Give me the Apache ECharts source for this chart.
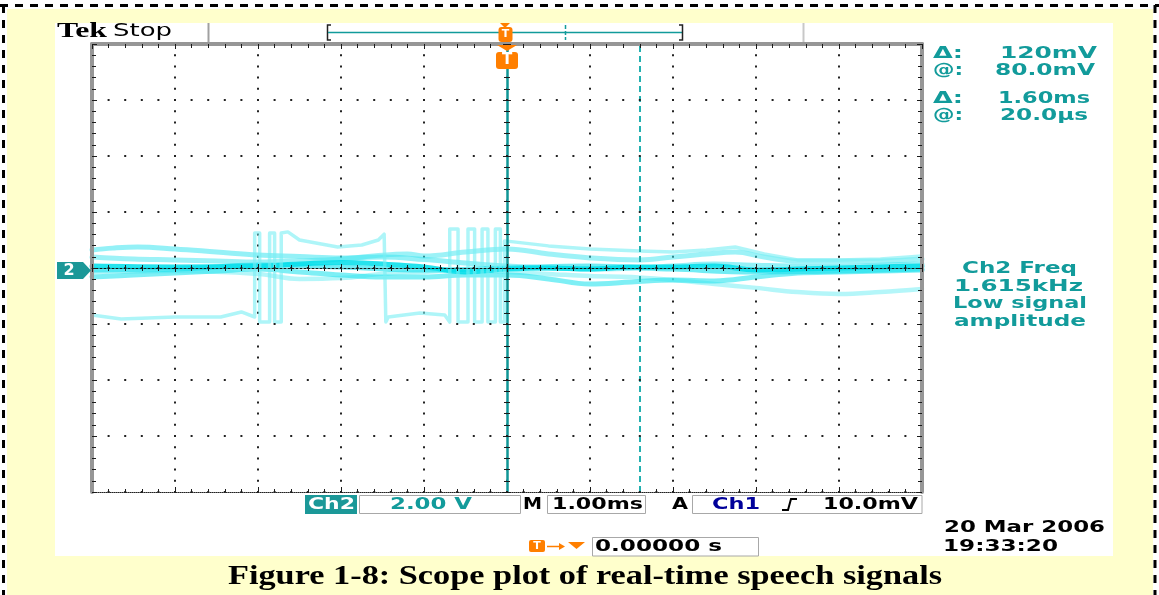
<!DOCTYPE html>
<html>
<head>
<meta charset="utf-8">
<script src="https://cdn.jsdelivr.net/npm/echarts@6/dist/echarts.min.js"></script>
<style>
html,body{margin:0;padding:0;background:#fff;}
#chart{width:1159px;height:595px;}
</style>
</head>
<body>
<div id="chart"></div>
<script>
// ---------------- data (time in ms, 1 ms/div; amplitude in V, 2 V/div) ----------------
const traceATimeMs = [-5, -4.75, -4.45, -4, -3.5, -3, -2.5, -2, -1.5, -1, -0.5, 0, 0.5, 1, 1.6, 2, 2.5, 3, 3.5, 4, 4.5, 5];
const traceAVolts  = [0.64, 0.71, 0.75, 0.68, 0.57, 0.46, 0.41, 0.36, 0.39, 0.30, 0.18, 0.07, 0.00, -0.04, 0.00, 0.07, 0.14, 0.10, 0.07, 0.07, 0.10, 0.14];

const traceBTimeMs = [-5, -4.5, -4, -3.5, -3, -2.5, -2, -1.5, -1.2, -1, -0.5, 0, 0.5, 1, 1.6, 2, 2.4, 2.75, 3.1, 3.5, 4, 4.5, 5];
const traceBVolts  = [0.39, 0.32, 0.29, 0.25, 0.21, 0.25, 0.32, 0.46, 0.50, 0.43, 0.57, 0.68, 0.50, 0.36, 0.29, 0.39, 0.50, 0.57, 0.39, 0.25, 0.25, 0.25, 0.32];

const traceCTimeMs = [-5, -4, -3, -2.5, -2, -1.5, -1, -0.5, 0, 0.5, 1, 1.5, 2, 2.5, 3, 3.5, 4, 4.5, 5];
const traceCVolts  = [0.07, 0.04, 0.07, 0.14, 0.20, 0.14, 0.04, -0.14, -0.04, 0.00, -0.04, 0.04, 0.04, 0.07, -0.07, -0.04, 0.00, 0.04, 0.07];

const traceC2TimeMs = [-5, -4, -3, -2, -1, 0, 1, 2, 3, 4, 5];
const traceC2Volts  = [-0.07, -0.04, 0.11, 0.04, -0.07, 0.00, 0.07, -0.04, -0.14, -0.11, -0.04];

const traceDTimeMs = [-5, -4.5, -4, -3.5, -3, -2.5, -2, -1.5, -1, -0.5, 0, 0.5, 1, 1.5, 2, 2.5, 3, 3.5, 4, 4.5, 5];
const traceDVolts  = [-0.32, -0.25, -0.18, -0.11, -0.04, -0.14, -0.25, -0.32, -0.32, -0.25, -0.25, -0.39, -0.57, -0.50, -0.43, -0.46, -0.32, -0.18, -0.14, -0.11, -0.07];

const traceETimeMs = [-5, -4, -3, -2.5, -2, -1.5, -1, -0.5, 0, 0.5, 1, 1.5, 2, 2.5, 3, 3.5, 4, 4.5, 5];
const traceEVolts  = [-0.14, -0.11, -0.21, -0.39, -0.36, -0.21, -0.14, -0.07, -0.14, -0.21, -0.29, -0.32, -0.43, -0.57, -0.71, -0.86, -0.93, -0.86, -0.75];

const traceFTimeMs = [-5, -4.65, -4, -3.45, -3.2, -3.04, -3.04, -2.98, -2.98, -2.86, -2.86, -2.80, -2.80, -2.72, -2.72, -2.64, -2.5, -2.04, -1.75, -1.55, -1.48, -1.46, -1.43, -1.05, -0.75, -0.69, -0.69, -0.59, -0.59, -0.47, -0.47, -0.39, -0.39, -0.30, -0.30, -0.23, -0.23, -0.14, -0.14, -0.08, -0.08, -0.03, -0.03, 0, 0.5, 1, 1.6, 2, 2.4, 2.75, 3.1, 3.5, 4, 4.5, 5];
const traceFVolts  = [-1.68, -1.82, -1.75, -1.75, -1.57, -1.75, 1.25, 1.25, -1.93, -1.93, 1.25, 1.25, -1.93, -1.93, 1.25, 1.29, 1.00, 0.75, 0.82, 1.00, 1.21, -1.93, -1.75, -1.61, -1.68, -1.93, 1.39, 1.39, -1.93, -1.93, 1.39, 1.39, -1.93, -1.93, 1.39, 1.39, -1.93, -1.93, 1.39, 1.39, -1.93, -1.93, 0.96, 0.96, 0.79, 0.68, 0.61, 0.57, 0.64, 0.75, 0.50, 0.29, 0.29, 0.32, 0.43];

const triggerTimeMs = 0;
const cursorTimeMs = 1.6;

const timeRangeMs = [-5, 5];
const voltRange = [-8, 8];
const timePerDiv = 1;
const voltsPerDiv = 2;

// ---------------- helpers ----------------
const TEAL = '#129b9b';
const ORANGE = '#ff7f00';
const SCOPE_FONT = 'DejaVu Sans';
const NONE = 'rgba(0,0,0,0)';
const ctx2d = document.createElement('canvas').getContext('2d');

function pairs(ts, vs) { return ts.map((t, i) => [t, vs[i]]); }

function fitText(str, left, cy, width, opt) {
  opt = opt || {};
  const size = opt.size || 16, weight = opt.weight || 'bold', family = opt.family || SCOPE_FONT;
  const font = weight + ' ' + size + 'px "' + family + '"';
  ctx2d.font = font;
  const w = ctx2d.measureText(str).width;
  return {
    type: 'text', x: left, y: cy, scaleX: width / w, z: 100, silent: true,
    style: { text: str, font: font, fill: opt.color || '#000', textAlign: 'left', textVerticalAlign: 'middle' }
  };
}
function centerText(str, cx, cy, opt) {
  const font = (opt.weight || 'bold') + ' ' + opt.size + 'px "' + (opt.family || SCOPE_FONT) + '"';
  return { type: 'text', x: cx, y: cy, z: 101, silent: true,
    style: { text: str, font: font, fill: opt.color || '#fff', textAlign: 'center', textVerticalAlign: 'middle' } };
}

function trace(name, ts, vs, color, width, smooth) {
  return {
    type: 'line', name: name, data: pairs(ts, vs), xAxisIndex: 0, yAxisIndex: 0,
    symbol: 'none', smooth: smooth, silent: true, z: 2,
    lineStyle: { color: color, width: width, cap: 'round', join: 'round' }
  };
}

const tickStyle = { color: '#1a1a1a', width: 1 };
const EDGE = '#969696';

function xAx(extra) {
  return Object.assign({
    type: 'value', min: timeRangeMs[0], max: timeRangeMs[1], interval: timePerDiv,
    axisLabel: { show: false }, splitLine: { show: false }
  }, extra);
}
function yAx(extra) {
  return Object.assign({
    type: 'value', min: voltRange[0], max: voltRange[1], interval: voltsPerDiv,
    axisLabel: { show: false }, splitLine: { show: false }
  }, extra);
}

// ---------------- graphics (screen furniture) ----------------
const graphics = [
  { type: 'rect', shape: { x: 7, y: 9, width: 1146, height: 586 }, style: { fill: '#ffffcc' }, z: -10, silent: true },
  { type: 'rect', shape: { x: 55, y: 23, width: 1058, height: 533 }, style: { fill: '#ffffff' }, z: -9, silent: true },
  { type: 'line', shape: { x1: 0, y1: 5.5, x2: 1159, y2: 5.5 }, style: { stroke: '#000', lineWidth: 3, lineDash: [8, 7] }, z: -8, silent: true },
  { type: 'line', shape: { x1: 3.5, y1: 5, x2: 3.5, y2: 595 }, style: { stroke: '#000', lineWidth: 3, lineDash: [8, 7] }, z: -8, silent: true },
  { type: 'line', shape: { x1: 1155, y1: 5, x2: 1155, y2: 595 }, style: { stroke: '#000', lineWidth: 3, lineDash: [8, 7] }, z: -8, silent: true },

  // top bar
  fitText('Tek', 57, 31, 50, { family: 'Liberation Serif', weight: 'bold', size: 22 }),
  fitText('Stop', 113, 31.5, 59, { weight: 'normal', size: 17 }),
  { type: 'line', shape: { x1: 208.5, y1: 23, x2: 208.5, y2: 42 }, style: { stroke: '#a0a0a0', lineWidth: 2 }, z: 100, silent: true },
  { type: 'line', shape: { x1: 803.5, y1: 23, x2: 803.5, y2: 42 }, style: { stroke: '#c8c8c8', lineWidth: 2 }, z: 100, silent: true },
  { type: 'polyline', shape: { points: [[331, 25], [327.5, 25], [327.5, 40], [331, 40]] }, style: { stroke: '#222', lineWidth: 1.5, fill: 'none' }, z: 100, silent: true },
  { type: 'line', shape: { x1: 328, y1: 32.5, x2: 682, y2: 32.5 }, style: { stroke: TEAL, lineWidth: 1.5 }, z: 100, silent: true },
  { type: 'polyline', shape: { points: [[679, 25], [682.5, 25], [682.5, 40], [679, 40]] }, style: { stroke: '#222', lineWidth: 1.5, fill: 'none' }, z: 100, silent: true },
  { type: 'line', shape: { x1: 565.5, y1: 25, x2: 565.5, y2: 40 }, style: { stroke: TEAL, lineWidth: 1.5, lineDash: [4, 2] }, z: 100, silent: true },
  { type: 'polygon', shape: { points: [[500, 23], [510, 23], [505, 28]] }, style: { fill: ORANGE }, z: 100, silent: true },
  { type: 'rect', shape: { x: 498.5, y: 27, width: 14, height: 15, r: 3 }, style: { fill: ORANGE }, z: 100, silent: true },
  centerText('T', 505.5, 34.5, { size: 11 }),

  // trigger marker inside graticule
  { type: 'polygon', shape: { points: [[497, 45], [517, 45], [507, 51]] }, style: { fill: ORANGE }, z: 100, silent: true },
  { type: 'rect', shape: { x: 496, y: 52, width: 22, height: 17, r: 3 }, style: { fill: ORANGE }, z: 100, silent: true },
  centerText('T', 507, 60.5, { size: 15 }),

  // channel 2 ground marker
  { type: 'polygon', shape: { points: [[57, 262], [83, 262], [91, 270.5], [83, 279], [57, 279]] }, style: { fill: '#1b9898' }, z: 100, silent: true },
  centerText('2', 69, 270.5, { size: 16 }),

  // cursor readouts
  fitText('\u0394:', 933, 53.5, 30, { color: TEAL }),
  fitText('120mV', 1000, 53.5, 97, { color: TEAL }),
  fitText('@:', 933, 71, 30, { color: TEAL }),
  fitText('80.0mV', 995, 71, 100, { color: TEAL }),
  fitText('\u0394:', 933, 99, 30, { color: TEAL }),
  fitText('1.60ms', 998, 99, 92, { color: TEAL }),
  fitText('@:', 933, 116, 30, { color: TEAL }),
  fitText('20.0\u00b5s', 1000, 116, 88, { color: TEAL }),

  // measurement
  fitText('Ch2 Freq', 962, 268.5, 115, { color: TEAL }),
  fitText('1.615kHz', 954, 286.5, 129, { color: TEAL }),
  fitText('Low signal', 953, 304, 134, { color: TEAL }),
  fitText('amplitude', 954, 321.5, 132, { color: TEAL }),

  // status line
  { type: 'rect', shape: { x: 305, y: 495, width: 52, height: 19 }, style: { fill: '#1b9898' }, z: 100, silent: true },
  fitText('Ch2', 308, 504.5, 47, { color: '#fff' }),
  { type: 'rect', shape: { x: 359.5, y: 495.5, width: 161, height: 18 }, style: { fill: 'none', stroke: '#a8a8a8', lineWidth: 1 }, z: 100, silent: true },
  fitText('2.00 V', 390, 504.5, 82, { color: TEAL }),
  fitText('M', 523, 504.5, 19),
  { type: 'rect', shape: { x: 547.5, y: 495.5, width: 98, height: 18 }, style: { fill: 'none', stroke: '#a8a8a8', lineWidth: 1 }, z: 100, silent: true },
  fitText('1.00ms', 552, 504.5, 91),
  fitText('A', 672, 504.5, 16),
  { type: 'rect', shape: { x: 692.5, y: 495.5, width: 229.5, height: 18 }, style: { fill: 'none', stroke: '#a8a8a8', lineWidth: 1 }, z: 100, silent: true },
  fitText('Ch1', 712, 504.5, 48, { color: '#00009a' }),
  { type: 'polyline', shape: { points: [[782, 510], [788, 510], [791, 499], [797, 499]] }, style: { stroke: '#000', lineWidth: 2, fill: 'none' }, z: 100, silent: true },
  fitText('10.0mV', 823, 504.5, 95),

  fitText('20 Mar 2006', 944, 528, 161),
  fitText('19:33:20', 943, 546.5, 115),

  { type: 'rect', shape: { x: 529, y: 540, width: 16, height: 12, r: 2 }, style: { fill: ORANGE }, z: 100, silent: true },
  centerText('T', 537, 546.5, { size: 11 }),
  { type: 'line', shape: { x1: 547, y1: 546.5, x2: 561, y2: 546.5 }, style: { stroke: ORANGE, lineWidth: 1.5 }, z: 100, silent: true },
  { type: 'polygon', shape: { points: [[559, 543], [565, 546.5], [559, 550]] }, style: { fill: ORANGE }, z: 100, silent: true },
  { type: 'polygon', shape: { points: [[568, 542], [585, 542], [576.5, 549]] }, style: { fill: ORANGE }, z: 100, silent: true },
  { type: 'rect', shape: { x: 592.5, y: 537.5, width: 166, height: 18.5 }, style: { fill: 'none', stroke: '#a8a8a8', lineWidth: 1 }, z: 100, silent: true },
  fitText('0.00000 s', 595, 546.5, 127),

  // caption
  fitText('Figure 1-8: Scope plot of real-time speech signals', 228, 577, 714, { family: 'Liberation Serif', weight: 'bold', size: 27 })
];

// ---------------- chart ----------------
const chart = echarts.init(document.getElementById('chart'), null, { renderer: 'canvas' });
const option = {
  animation: false,
  backgroundColor: '#ffffff',
  grid: { left: 92, top: 44, width: 830, height: 448, show: false, containLabel: false, outerBoundsMode: 'none' },
  xAxis: [
    xAx({ position: 'bottom', z: 1,
      axisLine: { show: true, onZero: false, lineStyle: { color: '#222', width: 1, type: [1, 1] } },
      axisTick: { show: true, inside: true, length: 5, lineStyle: tickStyle },
      minorTick: { show: true, splitNumber: 5, length: 3, lineStyle: tickStyle },
      splitLine: { show: true, lineStyle: { color: '#222', width: 2, type: [2, 9.2], dashOffset: 1 } } }),
    xAx({ position: 'top', z: 6,
      axisLine: { show: true, onZero: false, lineStyle: { color: EDGE, width: 4 } },
      axisTick: { show: true, inside: true, length: 5, lineStyle: tickStyle },
      minorTick: { show: true, splitNumber: 5, length: 4, lineStyle: tickStyle } }),
    xAx({ position: 'bottom', z: 6,
      axisLine: { show: true, onZero: true, onZeroAxisIndex: 0, lineStyle: { color: '#111', width: 1, type: [2, 2] } },
      axisTick: { show: true, inside: false, length: 4, lineStyle: tickStyle },
      minorTick: { show: true, splitNumber: 5, length: 3, lineStyle: tickStyle } }),
    xAx({ position: 'top', z: 6,
      axisLine: { show: true, onZero: true, onZeroAxisIndex: 0, lineStyle: { color: NONE, width: 0 } },
      axisTick: { show: true, inside: false, length: 4, lineStyle: tickStyle },
      minorTick: { show: true, splitNumber: 5, length: 3, lineStyle: tickStyle } })
  ],
  yAxis: [
    yAx({ position: 'left', z: 6,
      axisLine: { show: true, onZero: false, lineStyle: { color: EDGE, width: 4 } },
      axisTick: { show: true, inside: true, length: 5, lineStyle: tickStyle },
      minorTick: { show: true, splitNumber: 5, length: 4, lineStyle: tickStyle },
      splitLine: { show: true, lineStyle: { color: '#222', width: 2, type: [2, 14.6], dashOffset: 1 } } }),
    yAx({ position: 'right', z: 6,
      axisLine: { show: true, onZero: false, lineStyle: { color: EDGE, width: 4 } },
      axisTick: { show: true, inside: true, length: 5, lineStyle: tickStyle },
      minorTick: { show: true, splitNumber: 5, length: 4, lineStyle: tickStyle } }),
    yAx({ position: 'left', z: 6,
      axisLine: { show: true, onZero: true, onZeroAxisIndex: 0, lineStyle: { color: NONE, width: 0 } },
      axisTick: { show: true, inside: false, length: 4, lineStyle: tickStyle },
      minorTick: { show: true, splitNumber: 5, length: 3, lineStyle: tickStyle } }),
    yAx({ position: 'right', z: 6,
      axisLine: { show: true, onZero: true, onZeroAxisIndex: 0, lineStyle: { color: NONE, width: 0 } },
      axisTick: { show: true, inside: false, length: 4, lineStyle: tickStyle },
      minorTick: { show: true, splitNumber: 5, length: 3, lineStyle: tickStyle } })
  ],
  graphic: { elements: graphics },
  series: [
    trace('A', traceATimeMs, traceAVolts, 'rgba(60,230,240,0.55)', 5, 0.4),
    trace('B', traceBTimeMs, traceBVolts, 'rgba(60,230,240,0.5)', 5, 0.4),
    trace('E', traceETimeMs, traceEVolts, 'rgba(130,240,245,0.6)', 4.5, 0.4),
    trace('D', traceDTimeMs, traceDVolts, 'rgba(40,228,238,0.6)', 5, 0.4),
    trace('C2', traceC2TimeMs, traceC2Volts, 'rgba(20,224,236,0.6)', 5, 0.4),
    trace('C', traceCTimeMs, traceCVolts, 'rgba(0,222,234,0.85)', 5, 0.4),
    trace('F', traceFTimeMs, traceFVolts, 'rgba(120,238,244,0.6)', 3.5, false),
    {
      type: 'line', name: 'cursors', data: [], xAxisIndex: 0, yAxisIndex: 0, z: 3, silent: true,
      markLine: {
        silent: true, symbol: ['none', 'none'], label: { show: false },
        data: [
          { xAxis: triggerTimeMs, lineStyle: { type: 'solid', color: '#0f9696', width: 2.5 } },
          { xAxis: cursorTimeMs, lineStyle: { type: [6, 4], color: '#22b0b0', width: 2 } }
        ]
      }
    }
  ]
};
chart.setOption(option);
</script>
</body>
</html>
